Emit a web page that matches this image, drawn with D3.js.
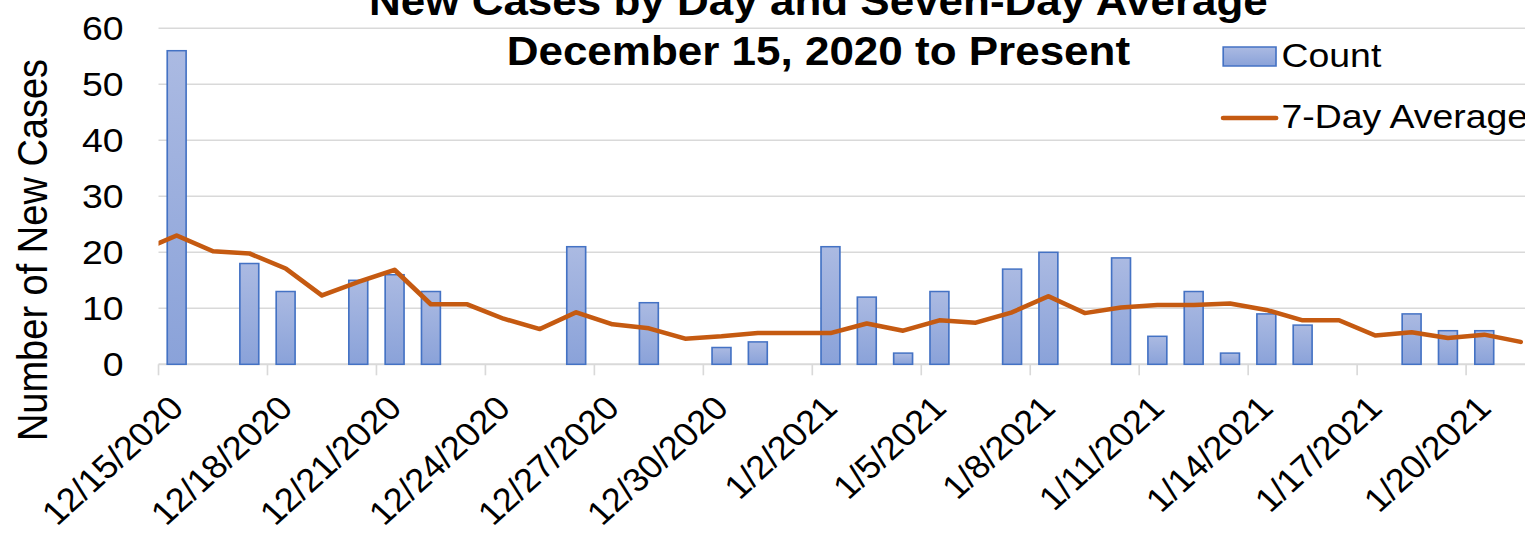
<!DOCTYPE html>
<html>
<head>
<meta charset="utf-8">
<script src="https://cdn.jsdelivr.net/npm/d3@7"></script>
<style>
  html, body { margin: 0; padding: 0; background: #fff; }
  svg { display: block; font-family: Arial, "Liberation Sans", sans-serif; }
</style>
</head>
<body>
<div id="chart"></div>
<script>
// data
const days = ["12/14/2020", "12/15/2020", "12/16/2020", "12/17/2020", "12/18/2020", "12/19/2020", "12/20/2020",
  "12/21/2020", "12/22/2020", "12/23/2020", "12/24/2020", "12/25/2020", "12/26/2020", "12/27/2020", "12/28/2020",
  "12/29/2020", "12/30/2020", "12/31/2020", "1/1/2021", "1/2/2021", "1/3/2021", "1/4/2021", "1/5/2021", "1/6/2021",
  "1/7/2021", "1/8/2021", "1/9/2021", "1/10/2021", "1/11/2021", "1/12/2021", "1/13/2021", "1/14/2021", "1/15/2021",
  "1/16/2021", "1/17/2021", "1/18/2021", "1/19/2021", "1/20/2021", "1/21/2021"];
const counts = [null, 56, 0, 18, 13, 0, 15, 16, 13, 0, 0, 0, 21, 0, 11, 0, 3, 4, 0, 21, 12, 2, 13, 0,
  17, 20, 0, 19, 5, 13, 2, 9, 7, 0, 0, 9, 6, 6, 0];
const avg7 = [20.2, 23.0, 20.2, 19.8, 17.1, 12.3, 14.7, 16.86, 10.71, 10.71, 8.14, 6.29, 9.29, 7.14, 6.43,
  4.57, 5.0, 5.57, 5.57, 5.57, 7.29, 6.0, 7.86, 7.43, 9.29, 12.14, 9.14, 10.14, 10.57, 10.57, 10.86, 9.71,
  7.86, 7.86, 5.14, 5.71, 4.71, 5.29, 4.0];
const tickDays = ["12/15/2020", "12/18/2020", "12/21/2020", "12/24/2020", "12/27/2020", "12/30/2020", "1/2/2021",
  "1/5/2021", "1/8/2021", "1/11/2021", "1/14/2021", "1/17/2021", "1/20/2021"];
const yTicks = [0, 10, 20, 30, 40, 50, 60];
const seriesNames = ["Count", "7-Day Average"];

const outW = 1525, height = 538;
const stretch = 1.1;               // picture is a bit wider than its glyphs are tall
const width = outW / stretch;

const plotLeft = 144.1, plotRight = width;
const dayW = 33.02;

const svg = d3.select("#chart").append("svg")
  .attr("width", outW)
  .attr("height", height)
  .attr("viewBox", `0 0 ${width} ${height}`)
  .attr("preserveAspectRatio", "none");

const x = d3.scaleBand()
  .domain(days)
  .range([plotLeft - dayW, plotLeft - dayW + dayW * days.length])
  .paddingInner(0.48).paddingOuter(0.24);

const y = d3.scaleLinear().domain([0, 60]).range([364.3, 28.3]);

const defs = svg.append("defs");
const grad = defs.append("linearGradient").attr("id", "barFill")
  .attr("x1", 0).attr("y1", 0).attr("x2", 0).attr("y2", 1);
grad.append("stop").attr("offset", "0%").attr("stop-color", "#abbae2");
grad.append("stop").attr("offset", "100%").attr("stop-color", "#8aa2d9");

defs.append("clipPath").attr("id", "plotClip")
  .append("rect")
  .attr("x", plotLeft).attr("y", 0)
  .attr("width", plotRight - plotLeft).attr("height", height);

// gridlines
svg.append("g").selectAll("line")
  .data(yTicks)
  .enter().append("line")
  .attr("x1", plotLeft).attr("x2", plotRight)
  .attr("y1", d => y(d)).attr("y2", d => y(d))
  .attr("stroke", "#d9d9d9")
  .attr("stroke-width", d => d === 0 ? 2 : 1.5);

// x tick marks at day boundaries
const bandStart = d => x(d) - x.step() * x.paddingInner() / 2;
svg.append("g").selectAll("line")
  .data(tickDays)
  .enter().append("line")
  .attr("x1", d => bandStart(d)).attr("x2", d => bandStart(d))
  .attr("y1", y(0)).attr("y2", y(0) + 11)
  .attr("stroke", "#d9d9d9")
  .attr("stroke-width", 1.5);

// y tick labels
svg.append("g").selectAll("text")
  .data(yTicks)
  .enter().append("text")
  .attr("x", 112.3)
  .attr("y", d => y(d))
  .attr("dy", "0.35em")
  .attr("text-anchor", "end")
  .style("font-size", "34px")
  .text(d => d);

// x tick labels
svg.append("g").selectAll("text")
  .data(tickDays)
  .enter().append("text")
  .attr("text-anchor", "end")
  .attr("transform", d => `translate(${x(d) + x.bandwidth() / 2 + 8},${410}) rotate(-45)`)
  .style("font-size", "33px")
  .text(d => d);

// bars
const plot = svg.append("g").attr("clip-path", "url(#plotClip)");
const barData = days.map((d, i) => ({ day: d, value: counts[i] })).filter(d => d.value);
plot.append("g").selectAll("rect")
  .data(barData)
  .enter().append("rect")
  .attr("x", d => x(d.day))
  .attr("width", x.bandwidth())
  .attr("y", d => y(d.value))
  .attr("height", d => y(0) - y(d.value))
  .attr("fill", "url(#barFill)")
  .attr("stroke", "#4472c4")
  .attr("stroke-width", 1.5);

// 7-day average line
const line = d3.line()
  .x((d, i) => x(days[i]) + x.bandwidth() / 2)
  .y(d => y(d));
plot.append("path")
  .datum(avg7)
  .attr("d", line)
  .attr("fill", "none")
  .attr("stroke", "#c55a11")
  .attr("stroke-width", 4.5)
  .attr("stroke-linejoin", "round")
  .attr("stroke-linecap", "round");

// title
const title = svg.append("text")
  .attr("text-anchor", "middle")
  .style("font-size", "40px")
  .style("font-weight", "bold");
title.append("tspan").attr("x", 744).attr("y", 15).text("New Cases by Day and Seven-Day Average");
title.append("tspan").attr("x", 744).attr("y", 65).text("December 15, 2020 to Present");

// y axis title
svg.append("text")
  .attr("transform", "translate(43,250) rotate(-90)")
  .attr("text-anchor", "middle")
  .style("font-size", "38px")
  .text("Number of New Cases");

// legend
const legend = svg.append("g");
legend.append("rect")
  .attr("x", 1112).attr("y", 47)
  .attr("width", 48).attr("height", 19)
  .attr("fill", "url(#barFill)")
  .attr("stroke", "#4472c4")
  .attr("stroke-width", 1.5);
legend.append("text")
  .attr("x", 1165).attr("y", 67)
  .style("font-size", "34px")
  .text(seriesNames[0]);
legend.append("line")
  .attr("x1", 1112).attr("x2", 1160)
  .attr("y1", 118).attr("y2", 118)
  .attr("stroke", "#c55a11")
  .attr("stroke-width", 4.5)
  .attr("stroke-linecap", "round");
legend.append("text")
  .attr("x", 1165).attr("y", 128)
  .style("font-size", "34px")
  .text(seriesNames[1]);
</script>
</body>
</html>
